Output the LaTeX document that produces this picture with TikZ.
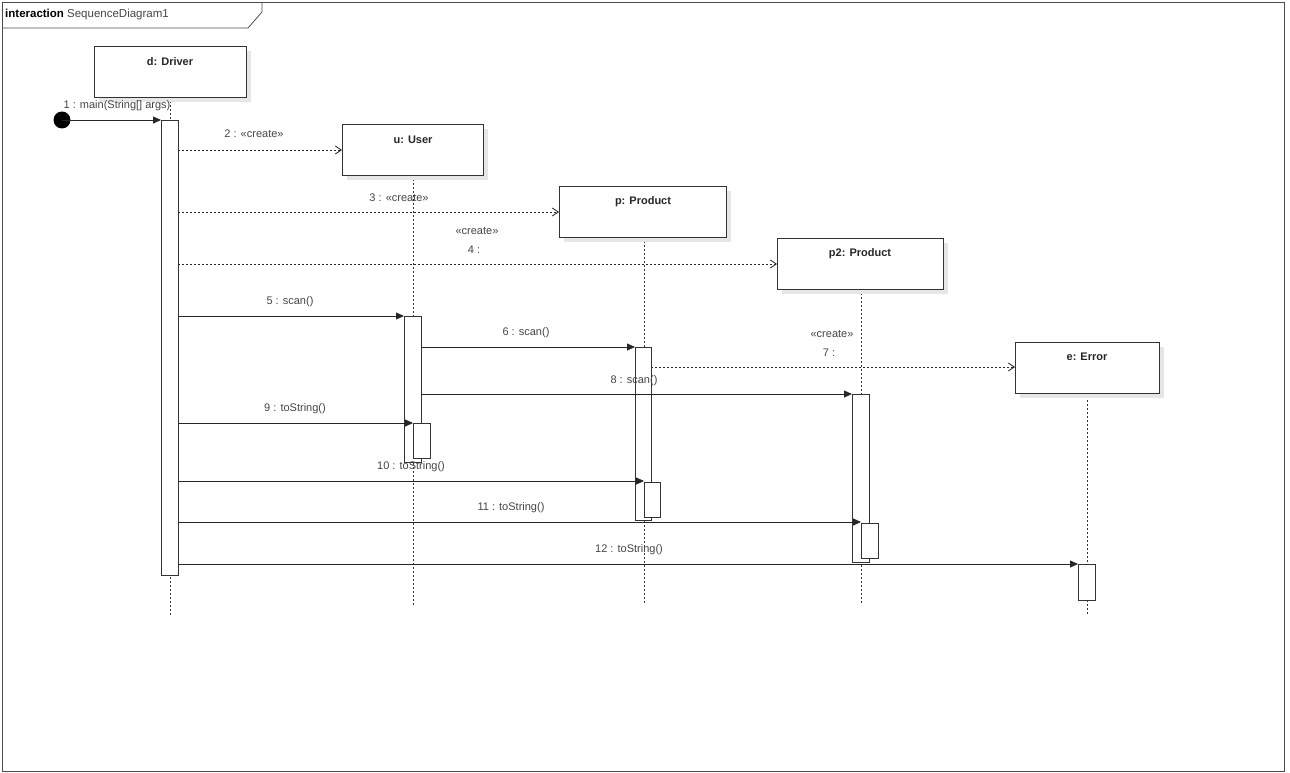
\documentclass[tikz,border=0pt]{standalone}
\usepackage{fontspec}
\setmainfont{Liberation Sans}
\usetikzlibrary{arrows.meta}
\definecolor{txt}{HTML}{444444}
\definecolor{shd}{HTML}{E6E6E6}
\begin{document}
\begin{tikzpicture}[x=1pt,y=-1pt,
  obj/.style={draw=black!80,line width=0.8pt,fill=white,minimum width=#1,minimum height=51pt,inner sep=0pt,anchor=north west},
  oname/.style={font=\bfseries\fontsize{11}{13}\selectfont,text=black!85},
  act/.style={draw=black!80,line width=0.8pt,fill=white},
  life/.style={draw=black!80,dash pattern=on 2pt off 2pt,line width=0.6pt},
  msg/.style={draw=black!85,line width=0.8pt,-{Triangle[length=8pt,width=7pt]}},
  cr/.style={draw=black!85,line width=0.8pt,dash pattern=on 2pt off 2pt,-{Straight Barb[length=6pt,width=8pt]}},
  lab/.style={font=\fontsize{11}{13}\selectfont,text=txt,inner sep=0pt}]
\useasboundingbox (0,0) rectangle (1290,773);
\draw[black!70,line width=0.8pt] (2,2) rectangle (1284,771);
\draw[black!70,line width=0.8pt] (2,28) -- (248,28) -- (262,12) -- (262,2);
\node[anchor=west,inner sep=0pt,font=\fontsize{11.5}{13}\selectfont] (ttl) at (5,15) {\textbf{interaction} \textcolor{txt}{SequenceDiagram1}};
% lifelines
\coordinate (lD) at (170,615); \coordinate (lU) at (413,605); \coordinate (lP) at (644,605);
\coordinate (lP2) at (861,605); \coordinate (lE) at (1087,615);
\draw[life] (170,97) -- (lD);
\draw[life] (413,175) -- (lU);
\draw[life] (644,237) -- (lP);
\draw[life] (861,289) -- (lP2);
\draw[life] (1087,392) -- (lE);
% objects with shadows
\foreach \x/\y/\w in {94/46/152,342/124/141,559/186/167,777/238/166,1015/342/144}{
  \fill[shd] (\x+5,\y+5) rectangle (\x+\w+5,\y+56);}
\node[obj=152pt] (D) at (94,46) {}; \node[oname] at (170,62) {d: Driver};
\node[obj=141pt] (U) at (342,124) {}; \node[oname] at (413,140) {u: User};
\node[obj=167pt] (P) at (559,186) {}; \node[oname] at (643,202) {p: Product};
\node[obj=166pt] (P2) at (777,238) {}; \node[oname] at (860,254) {p2: Product};
\node[obj=144pt] (E) at (1015,342) {}; \node[oname] at (1087,357) {e: Error};
% activations
\draw[act] (161,120) rectangle (178,575);
\draw[act] (404,316) rectangle (421,462);
\draw[act] (413,423) rectangle (430,458);
\draw[act] (635,347) rectangle (651,520);
\draw[act] (644,482) rectangle (660,517);
\draw[act] (852,394) rectangle (869,562);
\draw[act] (861,523) rectangle (878,558);
\draw[act] (1078,564) rectangle (1095,600);
% start
\fill (62,120) circle (8.5pt);
\coordinate (s) at (62,120);
\draw[msg] (s) -- (161,120);
\node[lab] at (117,106) {1 : main(String[] args)};
\draw[cr] (178,150) -- (U.west |- 0,150);
\node[lab] at (254,134) {2 : «create»};
\draw[cr] (178,212) -- (P.west |- 0,212);
\node[lab] at (399,198) {3 : «create»};
\draw[cr] (178,264) -- (P2.west |- 0,264);
\node[lab] at (477,231) {«create»};
\node[lab] at (474,250) {4 :};
\draw[msg] (178,316) -- (404,316); \node[lab] at (290,302) {5 : scan()};
\draw[msg] (421,347) -- (635,347); \node[lab] at (526,333) {6 : scan()};
\draw[cr] (651,367) -- (E.west |- 0,367);
\node[lab] at (832,334) {«create»}; \node[lab] at (829,353) {7 :};
\draw[msg] (421,394) -- (852,394); \node[lab] at (634,381) {8 : scan()};
\draw[msg] (178,423) -- (413,423); \node[lab] at (295,409) {9 : toString()};
\draw[msg] (178,481) -- (644,481); \node[lab] at (411,467) {10 : toString()};
\draw[msg] (178,522) -- (861,522); \node[lab] at (511,508) {11 : toString()};
\draw[msg] (178,564) -- (1078,564); \node[lab] at (629,550) {12 : toString()};
\end{tikzpicture}
\end{document}
